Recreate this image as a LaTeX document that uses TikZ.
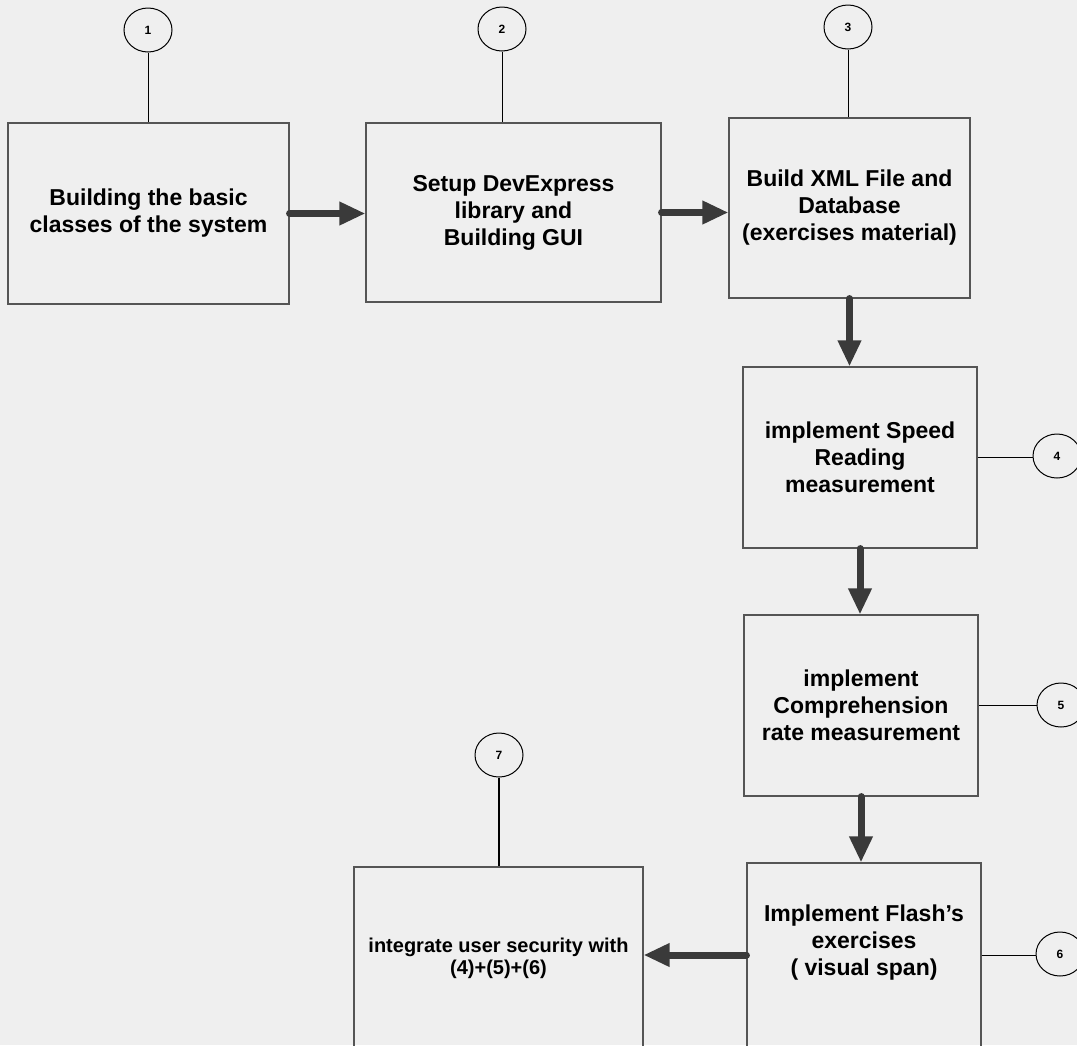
\documentclass[tikz,border=0pt]{standalone}
\usepackage{fontspec}
\setmainfont{Liberation Sans}
\usetikzlibrary{arrows.meta,shapes.geometric}
\definecolor{paper}{RGB}{239,239,239}
\definecolor{ink}{RGB}{58,58,58}
\definecolor{edge}{RGB}{85,85,85}

\begin{document}
\begin{tikzpicture}[x=1pt,y=-1pt,
  stage/.style={draw=edge, line width=1.1pt, align=center, inner sep=0pt,
    font=\fontsize{23}{27}\selectfont\bfseries},
  tag/.style={draw, ellipse, line width=1pt, minimum width=48pt, minimum height=44pt,
    inner sep=0pt, font=\fontsize{12}{14}\selectfont\bfseries},
  flow/.style={ink, line width=7pt, line cap=round, -{Triangle[length=26pt,width=22pt]}},
  tie/.style={line width=1pt}]
\fill[paper] (0,0) rectangle (1077,1045);
\clip (0,0) rectangle (1077,1045);

\node[stage, minimum width=281pt, minimum height=181pt] (box1) at (148.5,213.5)
  {Building the basic\\classes of the system};
\node[stage, minimum width=295pt, minimum height=179pt] (box2) at (513.5,212.5)
  {Setup DevExpress\\library and\\Building GUI};
\node[stage, minimum width=241pt, minimum height=180pt] (box3) at (849.5,208)
  {Build XML File and\\Database\\(exercises material)};
\node[stage, minimum width=234pt, minimum height=181pt] (box4) at (860,457.5)
  {implement Speed\\Reading\\measurement};
\node[stage, minimum width=234pt, minimum height=181pt] (box5) at (861,705.5)
  {implement\\Comprehension\\rate measurement};
\node[stage, minimum width=234pt, minimum height=184pt] (box6) at (864,955) {};
\node[stage, draw=none] (box6text) at ([yshift=12pt]box6.center)
  {Implement Flash’s\\exercises\\( visual span)};
\node[stage, minimum width=289pt, minimum height=182pt, font=\fontsize{20}{22}\selectfont\bfseries]
  (box7) at (498.5,958) {integrate user security with\\(4)+(5)+(6)};

\node[tag] (c1) at (148,30) {1};
\node[tag] (c2) at (502,29) {2};
\node[tag] (c3) at (848,27) {3};
\node[tag] (c4) at (1057,456) {4};
\node[tag] (c5) at (1061,705) {5};
\node[tag] (c6) at (1060,954) {6};
\node[tag] (c7) at (499,755) {7};

\draw[tie] (c1.south) -- (c1.south |- box1.north);
\draw[tie] (c2.south) -- (c2.south |- box2.north);
\draw[tie] (c3.south) -- (c3.south |- box3.north);
\draw[tie] (box4.east) -- (box4.east -| c4.west);
\draw[tie] (box5.east) -- (box5.east -| c5.west);
\draw[tie] (box6.east) -- (box6.east -| c6.west);
\draw[tie, line width=1.6pt] (c7.south) -- (c7.south |- box7.north);

\draw[flow] (box1.east) -- (box1.east -| box2.west);
\draw[flow] (box2.east) -- (box2.east -| box3.west);
\draw[flow] (box3.south) -- (box3.south |- box4.north);
\draw[flow] (box4.south) -- (box4.south |- box5.north);
\draw[flow] (box5.south) -- (box5.south |- box6.north);
\draw[flow] (box6.west) -- (box6.west -| box7.east);
\end{tikzpicture}
\end{document}
